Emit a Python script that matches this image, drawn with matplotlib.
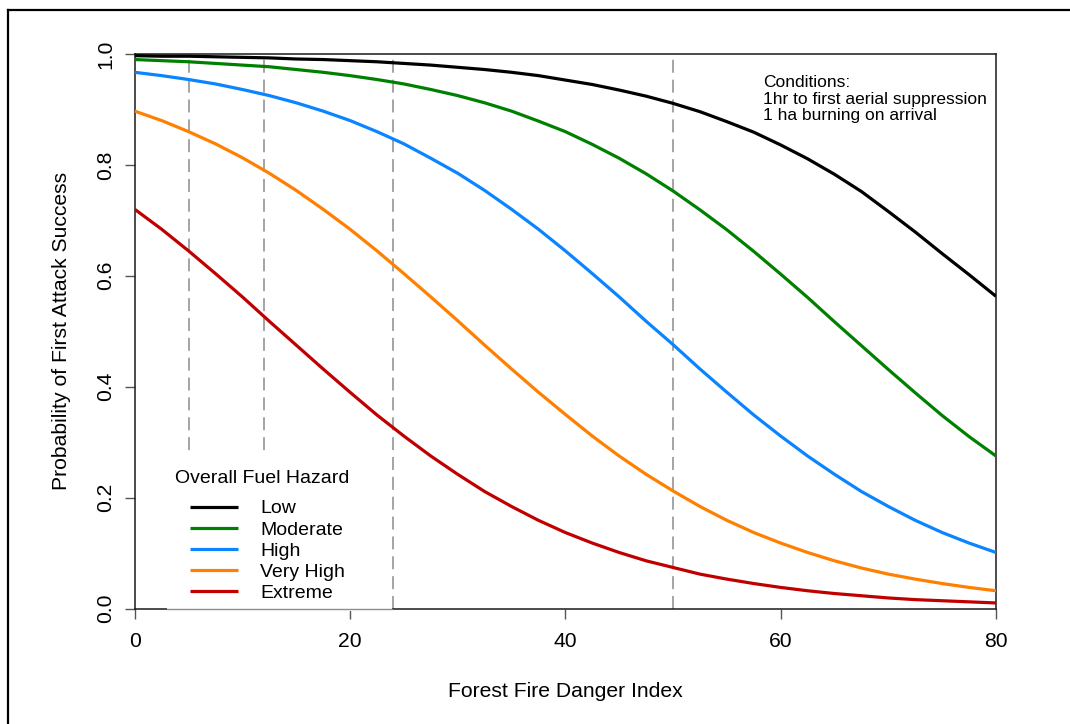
import matplotlib
matplotlib.use("Agg")
import matplotlib.pyplot as plt
from matplotlib.patches import Rectangle
from matplotlib.lines import Line2D

plt.rcParams['font.family'] = ['Liberation Sans', 'DejaVu Sans']

# Data (FFDI every 2.5 units)
ffdi = [0, 2.5, 5, 7.5, 10, 12.5, 15, 17.5, 20, 22.5, 25, 27.5, 30, 32.5, 35, 37.5,
        40, 42.5, 45, 47.5, 50, 52.5, 55, 57.5, 60, 62.5, 65, 67.5, 70, 72.5, 75, 77.5, 80]
low = [0.997, 0.996, 0.996, 0.995, 0.994, 0.993, 0.991, 0.990, 0.988, 0.986, 0.983,
       0.980, 0.976, 0.972, 0.967, 0.961, 0.953, 0.945, 0.935, 0.924, 0.911, 0.896,
       0.878, 0.859, 0.836, 0.811, 0.783, 0.752, 0.716, 0.679, 0.640, 0.602, 0.563]
moderate = [0.990, 0.988, 0.986, 0.983, 0.980, 0.977, 0.972, 0.967, 0.961, 0.954,
            0.946, 0.936, 0.925, 0.912, 0.897, 0.879, 0.860, 0.837, 0.812, 0.784,
            0.753, 0.719, 0.683, 0.644, 0.603, 0.561, 0.517, 0.474, 0.431, 0.389,
            0.348, 0.310, 0.275]
high = [0.967, 0.961, 0.954, 0.946, 0.936, 0.925, 0.912, 0.897, 0.880, 0.860, 0.838,
        0.812, 0.785, 0.754, 0.720, 0.684, 0.645, 0.604, 0.562, 0.518, 0.476, 0.432,
        0.390, 0.349, 0.311, 0.275, 0.242, 0.211, 0.184, 0.159, 0.137, 0.118, 0.101]
very_high = [0.897, 0.880, 0.860, 0.838, 0.813, 0.785, 0.754, 0.720, 0.684, 0.645,
             0.604, 0.562, 0.519, 0.475, 0.432, 0.390, 0.350, 0.311, 0.275, 0.242,
             0.212, 0.184, 0.159, 0.137, 0.118, 0.101, 0.086, 0.073, 0.062, 0.053,
             0.045, 0.038, 0.032]
extreme = [0.720, 0.684, 0.645, 0.604, 0.562, 0.518, 0.475, 0.432, 0.390, 0.349,
           0.311, 0.275, 0.242, 0.211, 0.184, 0.159, 0.137, 0.118, 0.101, 0.086,
           0.074, 0.062, 0.053, 0.045, 0.038, 0.032, 0.027, 0.023, 0.019, 0.016,
           0.014, 0.012, 0.010]
series_names = ["Low", "Moderate", "High", "Very High", "Extreme"]
series_colors = ["#000000", "#008000", "#0A84FF", "#FF8000", "#C00000"]
ref_ffdi = [5, 12, 24, 50]
x_ticks = [0, 20, 40, 60, 80]
y_ticks = [0.0, 0.2, 0.4, 0.6, 0.8, 1.0]
y_ticklabels = ["0.0", "0.2", "0.4", "0.6", "0.8", "1.0"]

fig = plt.figure(figsize=(10.7, 7.24), dpi=100)
ax = fig.add_axes([134.7 / 1070, (724 - 608.5) / 724, 861.3 / 1070, 554.5 / 724])

# reference dashed lines
for xv in ref_ffdi:
    ax.axvline(xv, color="#8c8c8c", lw=1.1, dashes=(8.5, 4.5), zorder=2)

# white legend background box
ax.add_patch(Rectangle((0.0372, -0.004), 0.2612, 0.285, transform=ax.transAxes,
                       facecolor="white", edgecolor="none", zorder=2.6, clip_on=False))
ax.plot([0.0372, 0.2984], [0, 0], transform=ax.transAxes, color="#8c8c8c",
        lw=1.0, zorder=2.7, clip_on=False)

all_series = [low, moderate, high, very_high, extreme]
handles = []
for vals, name, col in zip(all_series, series_names, series_colors):
    h, = ax.plot(ffdi, vals, color=col, lw=2.3, label=name, zorder=3,
                 solid_capstyle="butt", solid_joinstyle="round")
    handles.append(h)

ax.set_xlim(0, 80)
ax.set_ylim(0, 1)
ax.set_xticks(x_ticks)
ax.set_xticklabels([str(v) for v in x_ticks])
ax.set_yticks(y_ticks)
ax.set_yticklabels(y_ticklabels, rotation=90, va="center")
ax.tick_params(axis="both", direction="out", length=7, width=1.0,
               color="#555555", labelsize=15.2)
ax.tick_params(axis="x", pad=10)
ax.tick_params(axis="y", pad=7)
for s in ax.spines.values():
    s.set_linewidth(1.1)
    s.set_color("#1a1a1a")

ax.set_xlabel("Forest Fire Danger Index", fontsize=15.2, labelpad=22)
ax.set_ylabel("Probability of First Attack Success", fontsize=15.2, labelpad=18)

# legend
ax.text(0.0468, 0.2258, "Overall Fuel Hazard", transform=ax.transAxes,
        fontsize=14, ha="left", va="baseline", zorder=6)
leg = ax.legend(handles=handles, loc="upper left", bbox_to_anchor=(0.0642, 0.196),
                frameon=False, fontsize=14, handlelength=2.45, handletextpad=1.15,
                labelspacing=0.18, borderpad=0, borderaxespad=0)
for l in leg.get_lines():
    l.set_linewidth(2.3)
leg.set_zorder(6)

# conditions annotation
ax.text(0.7298, 0.9613, "Conditions:\n1hr to first aerial suppression\n1 ha burning on arrival",
        transform=ax.transAxes, fontsize=12.5, ha="left", va="top", linespacing=1.11)

# outer border (top and left edges visible)
fig.add_artist(Line2D([8 / 1070, 8 / 1070], [0, 1 - 10 / 724], transform=fig.transFigure,
                      color="black", lw=1.6))
fig.add_artist(Line2D([8 / 1070, 1], [1 - 10 / 724, 1 - 10 / 724], transform=fig.transFigure,
                      color="black", lw=1.6))

fig.savefig("out.png", dpi=100)
